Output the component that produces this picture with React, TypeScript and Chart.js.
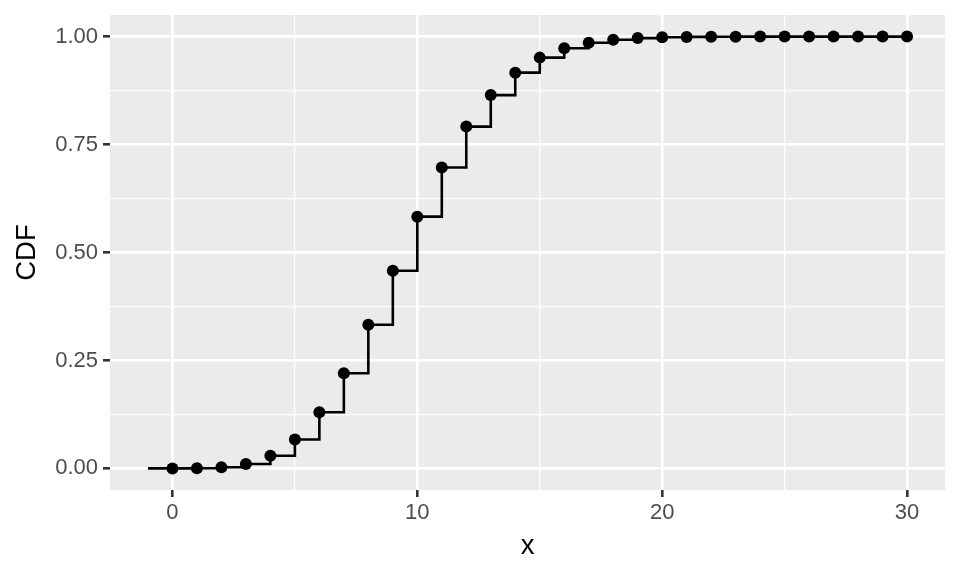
import React, { useEffect, useRef } from "react";
import { Chart, registerables } from "chart.js";

Chart.register(...registerables);

const xValues = [0, 1, 2, 3, 4, 5, 6, 7, 8, 9, 10, 11, 12, 13, 14, 15, 16, 17, 18, 19, 20, 21, 22, 23, 24, 25, 26, 27, 28, 29, 30];
const cdfValues = [
  0.0000454, 0.000499, 0.00277, 0.0103, 0.0293, 0.0671, 0.1301, 0.2202, 0.3328, 0.4579,
  0.583, 0.6968, 0.7916, 0.8645, 0.9165, 0.9513, 0.973, 0.9857, 0.9928, 0.9965,
  0.9984, 0.9993, 0.9997, 0.9999, 1.0, 1.0, 1.0, 1.0, 1.0, 1.0, 1.0,
];
const stepStartX = -1;
const stepStartY = 0;
const xTicks = [0, 5, 10, 15, 20, 25, 30];
const xMajor = [0, 10, 20, 30];
const yTicks = [0, 0.125, 0.25, 0.375, 0.5, 0.625, 0.75, 0.875, 1];
const yMajor = [0, 0.25, 0.5, 0.75, 1];
const xTitle = "x";
const yTitle = "CDF";

const FONT = "'Liberation Sans', Arial, Helvetica, sans-serif";

const isMajor = (arr: number[], v: number) => arr.some((m) => Math.abs(m - v) < 1e-9);

const panelPlugin = {
  id: "panelBg",
  beforeDraw(chart: any) {
    const { ctx, chartArea } = chart;
    ctx.save();
    ctx.fillStyle = "#EBEBEB";
    ctx.fillRect(chartArea.left, chartArea.top, chartArea.right - chartArea.left, chartArea.bottom - chartArea.top);
    ctx.restore();
  },
  afterDraw(chart: any) {
    const { ctx, chartArea } = chart;
    ctx.save();
    ctx.fillStyle = "#000000";
    ctx.font = `27.5px ${FONT}`;
    ctx.textAlign = "center";
    ctx.textBaseline = "alphabetic";
    ctx.fillText(xTitle, (chartArea.left + chartArea.right) / 2, 554);
    ctx.translate(35, (chartArea.top + chartArea.bottom) / 2);
    ctx.rotate(-Math.PI / 2);
    ctx.fillText(yTitle, 0, 0);
    ctx.restore();
  },
};

export default function App() {
  const ref = useRef<HTMLCanvasElement | null>(null);
  useEffect(() => {
    if (!ref.current) return;
    const points = xValues.map((x, i) => ({ x, y: cdfValues[i] }));
    const steps = [{ x: stepStartX, y: stepStartY }, ...points];
    const chart = new Chart(ref.current, {
      type: "line",
      data: {
        datasets: [
          {
            data: points,
            showLine: false,
            pointRadius: 6,
            pointBackgroundColor: "#000000",
            pointBorderColor: "#000000",
            pointBorderWidth: 0,
          },
          {
            data: steps,
            stepped: "before",
            borderColor: "#000000",
            borderWidth: 2.6,
            pointRadius: 0,
            fill: false,
          },
        ],
      } as any,
      options: {
        animation: false,
        responsive: true,
        maintainAspectRatio: false,
        layout: { padding: { top: 15, right: 15, left: 0, bottom: 0 } },
        plugins: { legend: { display: false }, tooltip: { enabled: false } },
        scales: {
          x: {
            type: "linear",
            min: -2.55,
            max: 31.55,
            afterBuildTicks: (scale: any) => {
              scale.ticks = xTicks.map((v) => ({ value: v }));
            },
            afterFit: (scale: any) => {
              scale.height = 86;
              scale.paddingLeft = 0;
              scale.paddingRight = 0;
            },
            border: { display: false },
            grid: {
              color: "#FFFFFF",
              lineWidth: (c: any) => (isMajor(xMajor, c.tick.value) ? 2.6 : 1.3),
              tickColor: (c: any) => (isMajor(xMajor, c.tick.value) ? "#333333" : "rgba(0,0,0,0)"),
              tickWidth: 2.6,
              tickLength: 7,
            },
            ticks: {
              autoSkip: false,
              maxRotation: 0,
              color: "#4D4D4D",
              font: { family: FONT, size: 22 },
              padding: 3,
              callback: (v: any) => (isMajor(xMajor, Number(v)) ? String(v) : ""),
            },
          },
          y: {
            type: "linear",
            min: -0.05,
            max: 1.05,
            afterBuildTicks: (scale: any) => {
              scale.ticks = yTicks.map((v) => ({ value: v }));
            },
            afterFit: (scale: any) => {
              scale.width = 110;
              scale.paddingTop = 0;
              scale.paddingBottom = 0;
            },
            border: { display: false },
            grid: {
              color: "#FFFFFF",
              lineWidth: (c: any) => (isMajor(yMajor, c.tick.value) ? 2.6 : 1.3),
              tickColor: (c: any) => (isMajor(yMajor, c.tick.value) ? "#333333" : "rgba(0,0,0,0)"),
              tickWidth: 2.6,
              tickLength: 7,
            },
            ticks: {
              autoSkip: false,
              color: "#4D4D4D",
              font: { family: FONT, size: 22 },
              padding: 5,
              callback: (v: any) => (isMajor(yMajor, Number(v)) ? Number(v).toFixed(2) : ""),
            },
          },
        },
      } as any,
      plugins: [panelPlugin],
    });
    return () => chart.destroy();
  }, []);
  return (
    <div style={{ position: "absolute", left: 0, top: 0, width: 960, height: 576, background: "#FFFFFF" }}>
      <canvas ref={ref} />
    </div>
  );
}
